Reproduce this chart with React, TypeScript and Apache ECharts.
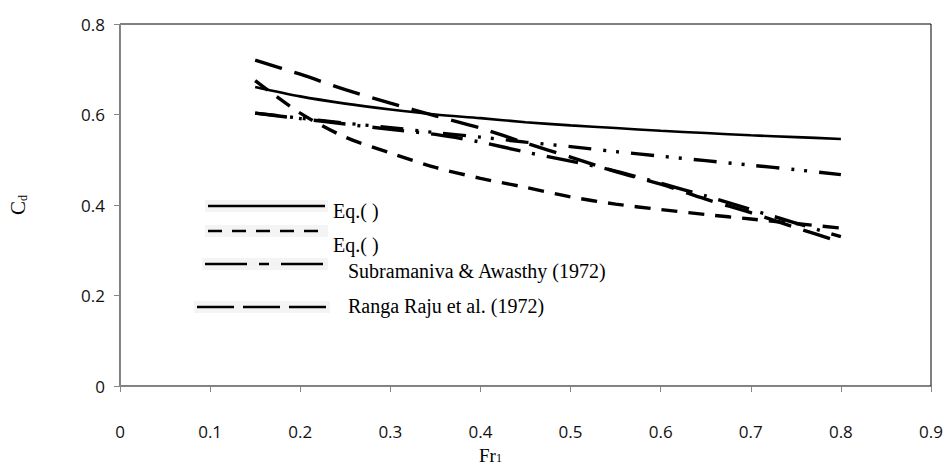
import React, { useEffect, useRef } from "react";
import * as echarts from "echarts";

const fr = [0.15, 0.2, 0.25, 0.3, 0.35, 0.4, 0.45, 0.5, 0.55, 0.6, 0.65, 0.7, 0.75, 0.8];
const eq1 = [0.661, 0.64, 0.624, 0.611, 0.6, 0.592, 0.583, 0.576, 0.57, 0.564, 0.559, 0.554, 0.55, 0.546];
const eq2 = [0.675, 0.603, 0.55, 0.515, 0.483, 0.459, 0.439, 0.418, 0.402, 0.39, 0.379, 0.369, 0.359, 0.349];
const dashDotDot = [0.603, 0.592, 0.581, 0.571, 0.56, 0.55, 0.539, 0.529, 0.518, 0.508, 0.498, 0.488, 0.478, 0.467];
const subramanya = [0.603, 0.591, 0.579, 0.567, 0.556, 0.539, 0.517, 0.497, 0.475, 0.448, 0.42, 0.39, 0.36, 0.33];
const rangaRaju = [0.72, 0.689, 0.655, 0.625, 0.597, 0.57, 0.537, 0.506, 0.474, 0.446, 0.413, 0.383, 0.35, 0.318];

const xTicks = [0, 0.1, 0.2, 0.3, 0.4, 0.5, 0.6, 0.7, 0.8, 0.9];
const yTicks = [0, 0.2, 0.4, 0.6, 0.8];
const legendNames = ["Eq.( )", "Eq.( )", "Subramaniva & Awasthy (1972)", "Ranga Raju et al. (1972)"];

const SERIF = "'Liberation Serif', 'Times New Roman', serif";
const SANS = "'Open Sans', 'Noto Sans', sans-serif";

function pairs(ys: number[]) {
  return fr.map((x, i) => [x, ys[i]]);
}

export default function App() {
  const ref = useRef<HTMLDivElement>(null);
  useEffect(() => {
    if (!ref.current) return;
    const chart = echarts.init(ref.current, undefined, { renderer: "svg" });
    const mk = (name: string, data: number[], type: any, width: number) => ({
      name,
      type: "line",
      data: pairs(data),
      smooth: 0.3,
      showSymbol: false,
      symbol: "none",
      lineStyle: { color: "#000", width, type },
      silent: true,
    });

    const legendRow = (
      y: number,
      x1: number,
      x2: number,
      dash: any,
      tx: number,
      ty: number,
      label: string
    ) => [
      {
        type: "rect",
        shape: { x: x1 - 3, y: y - 6, width: x2 - x1 + 6, height: 12 },
        style: { fill: "#f4f4f4" },
        silent: true,
      },
      {
        type: "line",
        shape: { x1, y1: y, x2, y2: y },
        style: { stroke: "#000", lineWidth: 2.5, lineDash: dash },
        silent: true,
      },
      {
        type: "text",
        x: tx,
        y: ty,
        style: {
          text: label,
          fill: "#000",
          font: `20px ${SERIF}`,
          textAlign: "left",
          textVerticalAlign: "middle",
        },
        silent: true,
      },
    ];

    chart.setOption({
      animation: false,
      backgroundColor: "#fff",
      grid: {
        left: 120,
        right: 14,
        top: 24,
        bottom: 80,
        show: true,
        borderColor: "#000",
        borderWidth: 1,
        backgroundColor: "transparent",
        containLabel: false,
        outerBoundsMode: "none",
      },
      xAxis: {
        type: "value",
        min: xTicks[0],
        max: xTicks[xTicks.length - 1],
        interval: 0.1,
        name: "{a|Fr}{b|1}",
        nameLocation: "middle",
        nameMoveOverlap: false,
        nameGap: 60,
        nameTextStyle: {
          padding: [0, 70, 0, 0],
          rich: {
            a: { fontFamily: SERIF, fontSize: 19, color: "#000", lineHeight: 18, verticalAlign: "middle" },
            b: { fontFamily: SERIF, fontSize: 12, color: "#000", lineHeight: 10, verticalAlign: "bottom" },
          },
        },
        axisLine: { show: true, lineStyle: { color: "#868686", width: 1 } },
        axisTick: { show: true, inside: false, length: 6, lineStyle: { color: "#868686" } },
        splitLine: { show: false },
        axisLabel: {
          margin: 37,
          fontFamily: SANS,
          fontSize: 17,
          color: "#111",
          formatter: (v: number) => String(Math.round(v * 10) / 10),
        },
      },
      yAxis: {
        type: "value",
        min: yTicks[0],
        max: yTicks[yTicks.length - 1],
        interval: 0.2,
        name: "{a|C}{b|d}",
        nameLocation: "middle",
        nameMoveOverlap: false,
        nameGap: 91,
        nameRotate: 90,
        nameTextStyle: {
          rich: {
            a: { fontFamily: SERIF, fontSize: 21, color: "#000", lineHeight: 22, verticalAlign: "middle" },
            b: { fontFamily: SERIF, fontSize: 12, color: "#000", lineHeight: 12, verticalAlign: "bottom" },
          },
        },
        axisLine: { show: true, lineStyle: { color: "#868686", width: 1 } },
        axisTick: { show: true, inside: false, length: 6, lineStyle: { color: "#868686" } },
        splitLine: { show: false },
        axisLabel: {
          margin: 15,
          fontFamily: SANS,
          fontSize: 17,
          color: "#111",
          formatter: (v: number) => String(Math.round(v * 10) / 10),
        },
      },
      series: [
        mk("Eq1", eq1, "solid", 2.6),
        mk("Eq2", eq2, [16, 11], 3.4),
        mk("DashDotDot", dashDotDot, [23, 12, 3, 10, 3, 12], 3.4),
        mk("Subramaniva & Awasthy (1972)", subramanya, [32, 12, 3, 12], 3.4),
        mk("Ranga Raju et al. (1972)", rangaRaju, [28, 13], 3.4),
      ],
      graphic: [
        ...legendRow(206, 208, 325, null, 333, 211, legendNames[0]),
        ...legendRow(231, 208, 325, [14, 10], 333, 245, legendNames[1]),
        ...legendRow(264, 205, 325, [42, 12, 10, 12], 348, 271, legendNames[2]),
        ...legendRow(307, 197, 327, [37, 9], 348, 306, legendNames[3]),
      ],
    });
    return () => chart.dispose();
  }, []);
  return (
    <div
      ref={ref}
      style={{ position: "fixed", left: 0, top: 0, width: 945, height: 466, background: "#fff" }}
    />
  );
}
